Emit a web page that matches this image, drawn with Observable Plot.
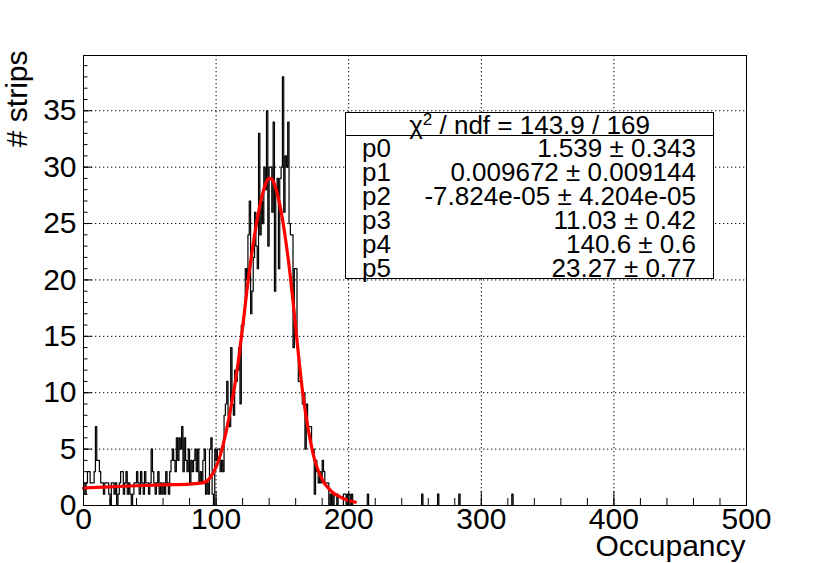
<!DOCTYPE html>
<html>
<head>
<meta charset="utf-8">
<script src="https://cdn.jsdelivr.net/npm/d3@7"></script>
<script src="https://cdn.jsdelivr.net/npm/@observablehq/plot@0.6"></script>
<style>
  body { margin: 0; background: #fff; }
  #wrap { position: relative; width: 830px; height: 563px; font-family: "Liberation Sans", Arial, Helvetica, sans-serif; }
  #stats { position: absolute; left: 345px; top: 112px; width: 367px; height: 165px; border: 1px solid #000; background: #fff; color: #000; font-size: 26px; }
  #stats .hdr { height: 22px; line-height: 24px; text-align: center; border-bottom: 1px solid #000; }
  #stats .hdr sup { font-size: 17px; vertical-align: 9px; line-height: 0; }
  #stats .row { height: 24px; line-height: 24px; display: flex; justify-content: space-between; padding: 0 17px 0 16px; }
</style>
</head>
<body>
<div id="wrap"></div>
<script>
// ---- Data ----
// histogram counts, bins of width 1 starting at Occupancy 0
const binCounts = [
  2,1,2,3,3,2,2,2,3,7,
  4,4,3,2,2,1,2,2,2,1,
  0,2,2,1,2,0,1,2,3,3,
  1,2,3,1,2,1,0,1,2,2,
  3,2,1,3,2,1,3,2,2,1,
  2,5,3,2,1,2,3,1,2,1,
  2,1,3,2,1,3,4,5,4,3,
  6,4,6,5,7,3,6,4,3,5,
  2,4,3,4,5,3,5,2,3,2,
  4,5,1,2,1,5,6,1,0,5,
  4,5,5,3,4,3,8,9,11,8,
  7,14,9,8,12,11,12,14,9,16,
  16,17,21,20,24,27,17,19,22,26,
  23,21,33,24,27,25,30,28,35,23,
  30,30,26,34,19,28,29,21,29,30,
  38,26,31,30,34,25,24,24,14,21,
  21,14,11,11,11,9,10,5,9,7,
  7,7,5,5,1,4,3,2,3,2,
  4,3,2,2,2,0,1,0,1,0,
  0,1,0,0,0,0,1,1,0,1,
  1,0,1,0
];
// isolated bins far in the tail
const sparseBins   = [214, 255, 267, 283, 323];
const sparseCounts = [1, 1, 1, 1, 1];

// fitted curve
const fitX = [0,20,40,60,80,90,95,100,104,108,111,114,117,120,124,128,132,135,138,140,142,144,146,149,151,154,156,158,160,162,164,166,168,171,174,177,181,185,189,193,197,201,205];
const fitY = [1.55,1.65,1.75,1.83,1.9,2.0,2.4,3.4,4.8,6.8,8.6,10.6,13.0,15.8,19.8,23.2,26.0,27.6,28.7,29.0,28.95,28.5,27.7,26.1,24.7,22.2,20.3,18.1,15.8,13.5,11.3,9.4,7.8,5.8,4.2,3.1,2.1,1.5,1.05,0.8,0.55,0.4,0.3];

// axes
const xMajor = [0, 100, 200, 300, 400, 500];
const yMajor = [0, 5, 10, 15, 20, 25, 30, 35];
const xGrid = [100, 200, 300, 400];
const yGrid = [5, 10, 15, 20, 25, 30, 35];
const xDomain = [0, 500];
const yDomain = [0, 39.9];

const statsHeader = ["143.9", "169"];
const statNames = ["p0", "p1", "p2", "p3", "p4", "p5"];
const statValues = ["1.539", "0.009672", "-7.824e-05", "11.03", "140.6", "23.27"];
const statErrors = ["0.343", "0.009144", "4.204e-05", "0.42", "0.6", "0.77"];

// ---- Build tables ----
const nBins = 500;
const counts = new Array(nBins).fill(0);
binCounts.forEach((c, i) => counts[i] = c);
sparseBins.forEach((b, i) => counts[b] = sparseCounts[i]);
const steps = counts.map((c, i) => ({x: i, y: c}));
steps.push({x: nBins, y: counts[nBins - 1]});
const fit = fitX.map((x, i) => ({x, y: fitY[i]}));

const W = 830, H = 563, mL = 83, mR = 84, mT = 55, mB = 58;
const plotH = H - mT - mB, plotW = W - mL - mR;
const yPerPx = (yDomain[1] - yDomain[0]) / plotH;
const xPerPx = (xDomain[1] - xDomain[0]) / plotW;
const xMinor = d3.range(0, 501, 20);
const yMinor = d3.range(0, 40, 1);
const font = "Liberation Sans, Arial, Helvetica, sans-serif";

const plot = Plot.plot({
  width: W, height: H,
  marginLeft: mL, marginRight: mR, marginTop: mT, marginBottom: mB,
  style: {fontFamily: font, background: "#fff", color: "#000"},
  x: {domain: xDomain, label: null},
  y: {domain: yDomain, label: null},
  marks: [
    Plot.gridX(xGrid, {stroke: "#000", strokeOpacity: 1, strokeDasharray: "1.3,2.7"}),
    Plot.gridY(yGrid, {stroke: "#000", strokeOpacity: 1, strokeDasharray: "1.3,2.7"}),
    Plot.line(steps, {x: "x", y: "y", curve: "step-after", stroke: "#000", strokeWidth: 1.2}),
    Plot.line(fit, {x: "x", y: "y", curve: "monotone-x", stroke: "#ff0000", strokeWidth: 3.2}),
    // inward ticks (ROOT style)
    Plot.ruleX(xMinor, {y1: 0, y2: 7 * yPerPx, stroke: "#000"}),
    Plot.ruleX(xMajor, {y1: 0, y2: 14 * yPerPx, stroke: "#000"}),
    Plot.ruleY(yMinor, {x1: 0, x2: 4.5 * xPerPx, stroke: "#000"}),
    Plot.ruleY(yMajor, {x1: 0, x2: 9 * xPerPx, stroke: "#000"}),
    Plot.frame({stroke: "#000", strokeWidth: 1}),
    Plot.axisX(xMajor, {tickSize: 0, tickPadding: 2, fontSize: 30, tickFormat: d => String(d), label: null}),
    Plot.axisY(yMajor, {tickSize: 0, tickPadding: 7, fontSize: 30, tickFormat: d => String(d), label: null}),
    Plot.text(["Occupancy"], {frameAnchor: "bottom-right", textAnchor: "end", lineAnchor: "top", dy: 29, dx: -1, fontSize: 30, fill: "#000"}),
    Plot.text(["# strips"], {frameAnchor: "top-left", textAnchor: "end", lineAnchor: "middle", rotate: -90, dx: -66, dy: -5, fontSize: 30, fill: "#000"})
  ]
});
document.getElementById("wrap").appendChild(plot);

// stats box
const box = document.createElement("div");
box.id = "stats";
const hdr = document.createElement("div");
hdr.className = "hdr";
hdr.innerHTML = `χ<sup>2</sup> / ndf = ${statsHeader[0]} / ${statsHeader[1]}`;
box.appendChild(hdr);
statNames.forEach((n, i) => {
  const r = document.createElement("div");
  r.className = "row";
  const a = document.createElement("span"); a.textContent = n;
  const b = document.createElement("span"); b.textContent = `${statValues[i]} ± ${statErrors[i]}`;
  r.appendChild(a); r.appendChild(b);
  box.appendChild(r);
});
document.getElementById("wrap").appendChild(box);
</script>
</body>
</html>
